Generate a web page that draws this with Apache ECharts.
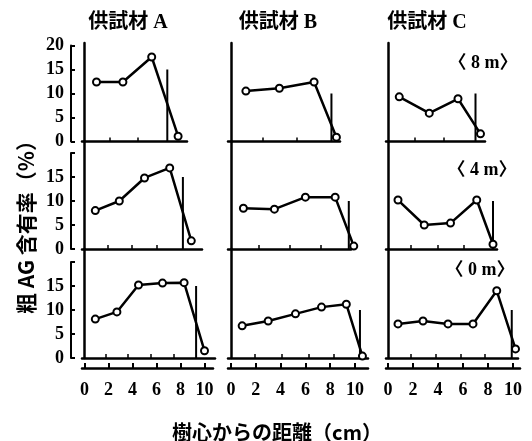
<!DOCTYPE html>
<html><head><meta charset="utf-8">
<script src="https://cdn.jsdelivr.net/npm/echarts@6/dist/echarts.min.js"></script>
<style>html,body{margin:0;padding:0;background:#fff}#c{width:532px;height:441px}</style>
</head><body><div id="c"></div>
<script>
// ---- data ----
const columnTitles = ['供試材 A', '供試材 B', '供試材 C'];
const heightLabels = ['〈 8 m〉', '〈 4 m〉', '〈 0 m〉'];
const yTickLabels = [0, 5, 10, 15, 20];
const xTickLabels = [0, 2, 4, 6, 8, 10];
const xAxisTitle = '樹心からの距離（cm）';
const yAxisTitle = '粗 AG 含有率（%）';

// distance from pith (cm) / crude AG content (%)
const distA8 = [1.0, 3.2, 5.6, 7.8];            const agA8 = [12.4, 12.4, 17.6, 1.1];
const distA4 = [0.9, 2.9, 5.0, 7.1, 8.9];       const agA4 = [8.0, 10.0, 14.8, 16.9, 1.7];
const distA0 = [0.9, 2.7, 4.5, 6.5, 8.3, 10.0]; const agA0 = [8.1, 9.6, 15.2, 15.6, 15.7, 1.5];
const distB8 = [1.2, 3.9, 6.7, 8.5];            const agB8 = [10.5, 11.1, 12.4, 0.9];
const distB4 = [1.0, 3.5, 6.0, 8.4, 9.9];       const agB4 = [8.5, 8.3, 10.8, 10.8, 0.6];
const distB0 = [0.9, 3.0, 5.2, 7.3, 9.3, 10.6]; const agB0 = [6.7, 7.7, 9.2, 10.6, 11.2, 0.4];
const distC8 = [0.9, 3.3, 5.6, 7.4];            const agC8 = [9.3, 5.9, 8.9, 1.6];
const distC4 = [0.8, 2.9, 5.0, 7.1, 8.4];       const agC4 = [10.2, 5.0, 5.4, 10.2, 1.0];
const distC0 = [0.8, 2.8, 4.8, 6.8, 8.7, 10.2]; const agC0 = [7.1, 7.7, 7.1, 7.1, 14.0, 1.9];

// vertical marker lines (position cm, height %) per panel, rows 8m/4m/0m
const markerPosA = [6.9, 8.2, 9.3]; const markerTopA = [15, 15, 15];
const markerPosB = [8.1, 9.5, 10.4]; const markerTopB = [10, 10, 10];
const markerPosC = [7.0, 8.4, 9.9]; const markerTopC = [10, 10, 10];

// ---- layout (pixels) ----
const colFrameLeft = [82, 228, 386];
const colX0 = [84.5, 231, 388];
const colPx = [12, 12.4, 12.5];
const rowZero = [141.5, 249, 358];
const rowTop = [43, 141.5, 249];
const frameRight = [[187, 202, 215], [340, 351, 368], [485, 497, 518]];
const bottomAxisEnds = [[82, 213], [228, 368], [386, 520]];
const PXU = 4.8;

const dist = [[distA8, distA4, distA0], [distB8, distB4, distB0], [distC8, distC4, distC0]];
const ag = [[agA8, agA4, agA0], [agB8, agB4, agB0], [agC8, agC4, agC0]];
const mPos = [markerPosA, markerPosB, markerPosC];
const mTop = [markerTopA, markerTopB, markerTopC];

const FONT_SERIF = '"Liberation Serif","Noto Sans CJK JP",serif';
const FONT_CJK = '"Noto Sans CJK JP","Liberation Serif",sans-serif';

const grid = [], xAxis = [], yAxis = [], series = [];

for (let c = 0; c < 3; c++) {
  for (let r = 0; r < 3; r++) {
    const gi = grid.length;
    const left = colFrameLeft[c], right = frameRight[c][r];
    grid.push({left: left, top: rowTop[r], width: right - left, height: rowZero[r] - rowTop[r]});
    const xs = dist[c][r], ys = ag[c][r];
    const ticks = [];
    for (let i = 0; i < xs.length - 2; i++) ticks.push((xs[i] + xs[i + 1]) / 2);
    xAxis.push({
      type: 'value', gridIndex: gi,
      min: (left - colX0[c]) / colPx[c], max: (right - colX0[c]) / colPx[c],
      axisLine: {show: true, lineStyle: {color: '#000', width: 2.5}},
      axisTick: {show: true, inside: true, length: 4, customValues: ticks, lineStyle: {color: '#000', width: 1.5}},
      axisLabel: {show: false}, splitLine: {show: false}
    });
    yAxis.push({
      type: 'value', gridIndex: gi, min: 0, max: (rowZero[r] - rowTop[r]) / PXU,
      axisLine: {show: true, lineStyle: {color: '#000', width: 2.5}},
      axisTick: {show: false}, axisLabel: {show: false}, splitLine: {show: false}
    });
    series.push({
      type: 'line', xAxisIndex: gi, yAxisIndex: gi, clip: false,
      data: [[mPos[c][r], 0], [mPos[c][r], mTop[c][r]]],
      symbol: 'none', lineStyle: {color: '#000', width: 2}, z: 2, silent: true
    });
    series.push({
      type: 'line', xAxisIndex: gi, yAxisIndex: gi, clip: false,
      data: xs.map((x, i) => [x, ys[i]]),
      symbol: 'circle', symbolSize: 7,
      lineStyle: {color: '#000', width: 2.5},
      itemStyle: {color: '#fff', borderColor: '#000', borderWidth: 2},
      z: 3, silent: true
    });
  }
}

// y-axis brackets (left of column A)
for (let r = 0; r < 3; r++) {
  const gi = grid.length;
  grid.push({left: 71, top: rowZero[r] - 20 * PXU, width: 1, height: 20 * PXU});
  xAxis.push({type: 'value', gridIndex: gi, show: false});
  yAxis.push({
    type: 'value', gridIndex: gi, min: yTickLabels[0], max: yTickLabels[yTickLabels.length - 1], interval: 5,
    axisLine: {show: true, lineStyle: {color: '#000', width: 2}},
    axisTick: {show: true, inside: true, length: 4, lineStyle: {color: '#000', width: 2}},
    axisLabel: {
      margin: 7, color: '#000', fontFamily: FONT_SERIF, fontWeight: 'bold', fontSize: 18,
      formatter: (v) => (r > 0 && v === 20) ? '' : String(v)
    },
    splitLine: {show: false}
  });
}

// bottom distance axes
for (let c = 0; c < 3; c++) {
  const gi = grid.length;
  const [a, b] = bottomAxisEnds[c];
  grid.push({left: a, top: 360, width: b - a, height: 8});
  xAxis.push({
    type: 'value', gridIndex: gi,
    min: (a - colX0[c]) / colPx[c], max: (b - colX0[c]) / colPx[c],
    axisLine: {show: true, lineStyle: {color: '#000', width: 2.5}},
    axisTick: {show: true, inside: true, length: 5, customValues: xTickLabels, lineStyle: {color: '#000', width: 2}},
    axisLabel: {
      show: true, customValues: xTickLabels, margin: 13, color: '#000',
      fontFamily: FONT_SERIF, fontWeight: 'bold', fontSize: 18,
      formatter: (v) => String(Math.round(v))
    },
    splitLine: {show: false}
  });
  yAxis.push({type: 'value', gridIndex: gi, show: false});
}

const graphic = [];
const titleX = [128, 278, 427];
for (let c = 0; c < 3; c++) {
  graphic.push({type: 'text', x: titleX[c], y: 23, style: {
    text: columnTitles[c], fill: '#000', fontFamily: FONT_SERIF, fontWeight: 'bold', fontSize: 20,
    align: 'center', verticalAlign: 'middle'}});
}
const hlPos = [[483, 63], [482, 170], [480, 270]];
for (let r = 0; r < 3; r++) {
  graphic.push({type: 'text', x: hlPos[r][0], y: hlPos[r][1], style: {
    text: heightLabels[r], fill: '#000', fontFamily: FONT_SERIF, fontWeight: 'bold', fontSize: 18,
    align: 'center', verticalAlign: 'middle'}});
}
graphic.push({type: 'text', x: 277, y: 432, style: {
  text: xAxisTitle, fill: '#000', fontFamily: FONT_CJK, fontWeight: 'bold', fontSize: 20,
  align: 'center', verticalAlign: 'middle'}});
graphic.push({type: 'text', x: 26, y: 222, rotation: Math.PI / 2, style: {
  text: yAxisTitle, fill: '#000', fontFamily: FONT_CJK, fontWeight: 'bold', fontSize: 21,
  align: 'center', verticalAlign: 'middle'}});

const chart = echarts.init(document.getElementById('c'), null, {renderer: 'canvas'});
chart.setOption({
  animation: false, backgroundColor: '#fff',
  grid, xAxis, yAxis, series, graphic
});
</script></body></html>
